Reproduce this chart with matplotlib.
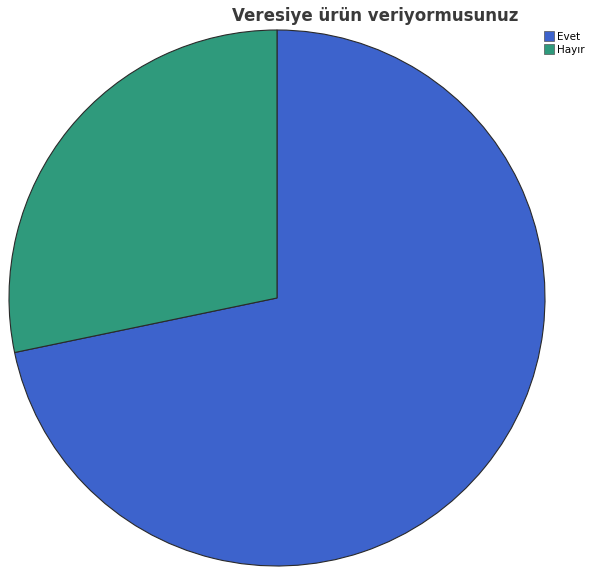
import matplotlib

matplotlib.use("Agg")

import matplotlib.pyplot as plt
from matplotlib.patches import Patch

categories = ["Evet", "Hayır"]
counts = [33, 13]
colors = ["#3d63cc", "#2f9a7c"]

W, H = 592, 567
fig = plt.figure(figsize=(W / 100, H / 100), dpi=100)
fig.patch.set_facecolor("white")

# pie circle: center (277, 298) px, radius 268 px
cx, cy, r = 277, 298, 268
ax = fig.add_axes([(cx - r) / W, (H - cy - r) / H, 2 * r / W, 2 * r / H])
ax.pie(
    counts,
    colors=colors,
    startangle=90,
    counterclock=False,
    radius=1.0,
    wedgeprops={"edgecolor": "#2a2a2a", "linewidth": 0.8},
)
ax.set_xlim(-1.0, 1.0)
ax.set_ylim(-1.0, 1.0)
ax.set_aspect("auto")
ax.axis("off")

fig.text(375 / W, 1 - 16 / H, "Veresiye ürün veriyormusunuz", ha="center", va="center",
         fontsize=12, fontweight="bold", color="#3a3a3a", family="DejaVu Sans")

handles = [Patch(facecolor=c, edgecolor="#555555", linewidth=0.5) for c in colors]
fig.legend(handles, categories, loc="upper left", bbox_to_anchor=(544 / W, 1 - 31 / H),
           frameon=False, fontsize=7.5, handlelength=1.0, handleheight=1.1,
           handletextpad=0.2, labelspacing=0.25, borderaxespad=0, borderpad=0)

fig.savefig("out.png", dpi=100)
